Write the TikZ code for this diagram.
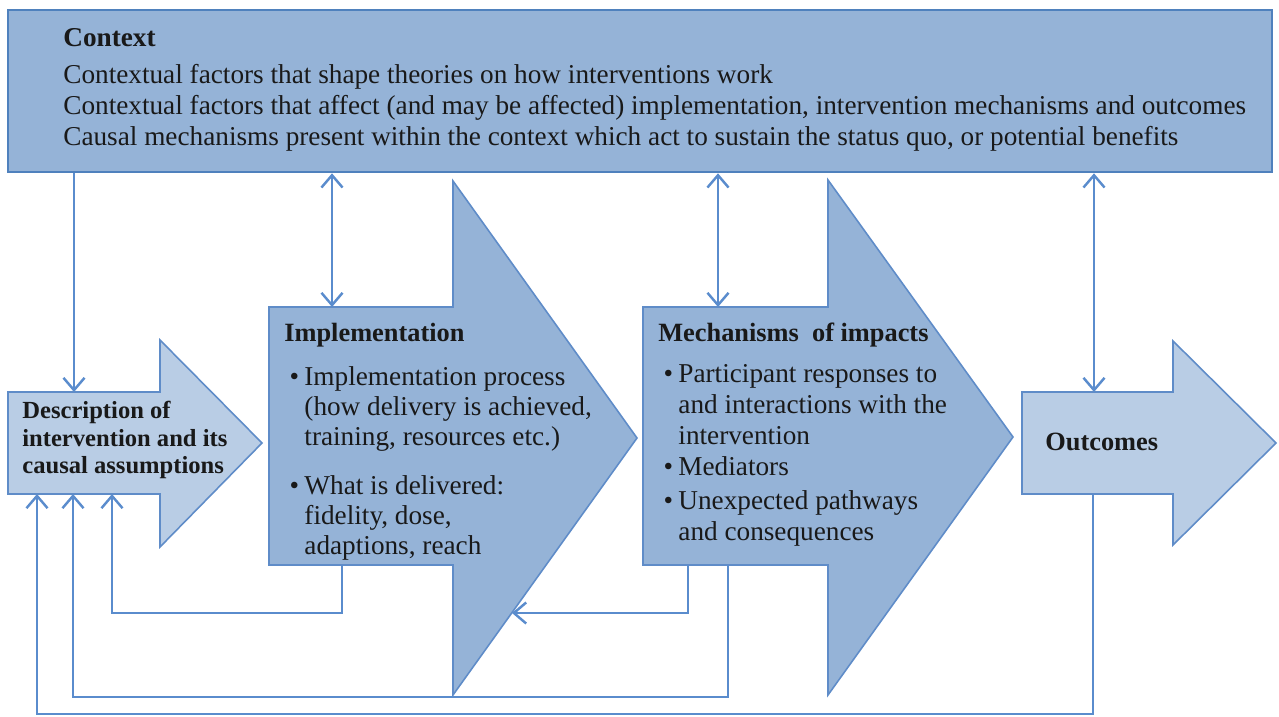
\documentclass[tikz,border=0pt]{standalone}
\usepackage{fontspec}
\setmainfont{Liberation Serif}
\usetikzlibrary{arrows.meta}
\definecolor{ctxFill}{RGB}{149, 179, 215}
\definecolor{ctxBorder}{RGB}{79, 129, 189}
\definecolor{lightFill}{RGB}{185, 205, 229}
\definecolor{arrowBorder}{RGB}{95, 140, 200}
\definecolor{linkBlue}{RGB}{90, 140, 205}
\definecolor{darkText}{RGB}{25, 25, 25}

\begin{document}
\begin{tikzpicture}[x=0.2mm, y=-0.2mm, >={Straight Barb[length=7pt,width=12pt]}]

  % page frame (pixel grid, y pointing down)
  \useasboundingbox (0,0) rectangle (1279,717);

  \tikzset{
    ctxbox/.style={draw=ctxBorder, fill=ctxFill, line width=1.5pt,
      minimum width=252.8mm, minimum height=32.4mm, inner sep=0},
    bigarrow/.style={draw=arrowBorder, fill=ctxFill, line width=0.9pt},
    smallarrow/.style={bigarrow, fill=lightFill},
    label/.style={font=\fontsize{15.5}{17}\selectfont, text=darkText,
      align=left, anchor=north west, inner sep=0},
    link/.style={draw=linkBlue, line width=1.4pt}
  }

  % Context box
  \node[ctxbox] (ctx) at (640, 91) {};
  \node[label, font=\fontsize{15.5}{17.6}\selectfont] (ctxText) at (63, 28)
    {\textbf{Context}\\[3.4pt]
     Contextual factors that shape theories on how interventions work\\
     Contextual factors that affect (and may be affected) implementation, intervention mechanisms and outcomes\\
     Causal mechanisms present within the context which act to sustain the status quo, or potential benefits};

  % --- the four block arrows ---
  % Description (light)
  \filldraw[smallarrow] (8,392) -- (160,392) -- (160,340) -- (262,443)
    -- (160,547) -- (160,494) -- (8,494) -- cycle;
  % Implementation
  \filldraw[bigarrow] (269,307) -- (453,307) -- (453,181) -- (637,438)
    -- (453,695) -- (453,565) -- (269,565) -- cycle;
  % Mechanisms of impacts
  \filldraw[bigarrow] (643,307) -- (828,307) -- (828,180) -- (1013,437)
    -- (828,695) -- (828,565) -- (643,565) -- cycle;
  % Outcomes (light)
  \filldraw[smallarrow] (1022,392) -- (1173,392) -- (1173,341) -- (1276,443)
    -- (1173,545) -- (1173,494) -- (1022,494) -- cycle;

  % docking points on the arrow bodies
  \coordinate (descIn)   at (74,392);
  \coordinate (descFbA)  at (112,494);
  \coordinate (descFbB)  at (73,494);
  \coordinate (descFbC)  at (37,494);
  \coordinate (implIn)   at (332,307);
  \coordinate (implOut)  at (342,565);
  \coordinate (implBack) at (512,613);
  \coordinate (mechIn)   at (718,307);
  \coordinate (mechOutA) at (688,565);
  \coordinate (mechOutB) at (728,565);
  \coordinate (outcIn)   at (1094,392);
  \coordinate (outcOut)  at (1093,494);
  % heights of the feedback loops
  \coordinate (loopA) at (0,613);
  \coordinate (loopB) at (0,697);
  \coordinate (loopC) at (0,714);

  % --- texts ---
  \node[label, font=\bfseries\fontsize{14}{15.6}\selectfont] (desc) at (22, 401)
    {Description of\\intervention and its\\causal assumptions};

  \node[label] (impl) at (284, 323)
    {{\fontsize{15}{17}\selectfont\textbf{Implementation}}\\[9pt]
     \begin{tabular}{@{\hspace{3pt}}l@{\hspace{3pt}}l@{}}
       \textbullet & Implementation process\\
                   & (how delivery is achieved,\\
                   & training, resources etc.)\\[11pt]
       \textbullet & What is delivered:\\
                   & fidelity, dose,\\
                   & adaptions, reach
     \end{tabular}};

  \node[label, font=\fontsize{15.5}{17.4}\selectfont] (mech) at (658, 323)
    {{\fontsize{15}{17}\selectfont\textbf{Mechanisms \ of impacts}}\\[7pt]
     \begin{tabular}{@{\hspace{3pt}}l@{\hspace{3pt}}l@{}}
       \textbullet & Participant responses to\\
                   & and interactions with the\\
                   & intervention\\[0.5pt]
       \textbullet & Mediators\\[2pt]
       \textbullet & Unexpected pathways\\
                   & and consequences
     \end{tabular}};

  \node[label, anchor=west, font=\bfseries\fontsize{15}{17}\selectfont] (outc) at (1045, 442) {Outcomes};

  % --- connectors ---
  \draw[link, ->]  (ctx.south -| descIn) -- (descIn);
  \draw[link, <->] (ctx.south -| implIn) -- (implIn);
  \draw[link, <->] (ctx.south -| mechIn) -- (mechIn);
  \draw[link, <->] (ctx.south -| outcIn) -- (outcIn);

  % feedback loops
  \draw[link, ->] (implOut) -- (implOut |- loopA) -| (descFbA);
  \draw[link, ->] (mechOutA) -- (mechOutA |- loopA) -- (implBack);
  \draw[link, ->] (mechOutB) -- (mechOutB |- loopB) -| (descFbB);
  \draw[link, ->] (outcOut) -- (outcOut |- loopC) -| (descFbC);

\end{tikzpicture}
\end{document}
